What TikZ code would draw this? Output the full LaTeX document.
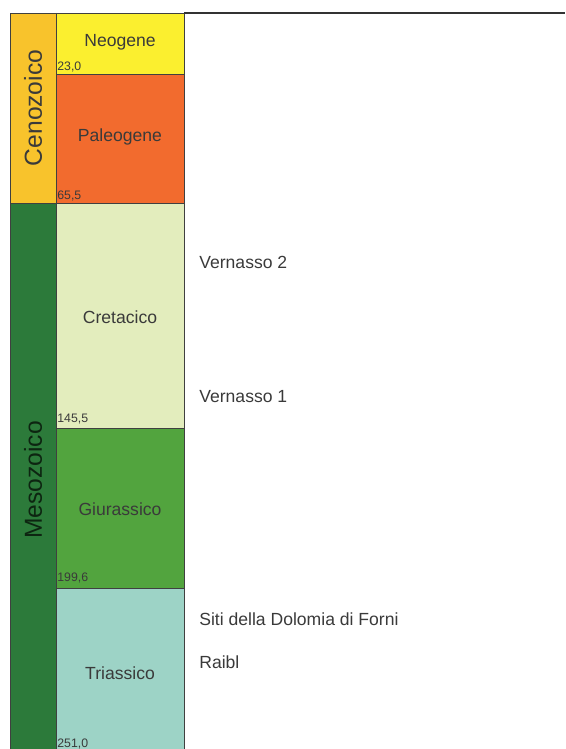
\documentclass[tikz,border=0pt]{standalone}
\usepackage{fontspec}
\setmainfont{Liberation Sans}
\definecolor{cenozoico}{HTML}{F8C32C}
\definecolor{mesozoico}{HTML}{2C7A3A}
\definecolor{neogene}{HTML}{FBEF2F}
\definecolor{paleogene}{HTML}{F26B2E}
\definecolor{cretacico}{HTML}{E3EDBD}
\definecolor{giurassico}{HTML}{52A43E}
\definecolor{triassico}{HTML}{9DD3C6}
\definecolor{testo}{HTML}{3A3A3A}
\tikzset{
  era/.style={font=\fontsize{14}{14}\selectfont,text=testo,rotate=90},
  periodo/.style={font=\fontsize{10}{10}\selectfont,text=testo},
  eta/.style={font=\fontsize{7}{7}\selectfont,text=testo,anchor=west,inner sep=0pt},
  sito/.style={font=\fontsize{10}{10}\selectfont,text=testo,anchor=west,inner sep=0pt},
  bordo/.style={draw=black!75,line width=0.4pt}
}
\begin{document}
\begin{tikzpicture}[x=0.02cm,y=-0.02cm]
\useasboundingbox (0,0) rectangle (565,749);
% ere
\fill[cenozoico] (10,13) rectangle (56,203);
\fill[mesozoico] (10,203) rectangle (56,749);
% periodi
\fill[neogene] (56,13) rectangle (184,74);
\fill[paleogene] (56,74) rectangle (184,203);
\fill[cretacico] (56,203) rectangle (184,428);
\fill[giurassico] (56,428) rectangle (184,588);
\fill[triassico] (56,588) rectangle (184,749);
\draw[bordo] (10,749) -- (10,13) -- (184,13) -- (184,749);
\draw[bordo] (56,13) -- (56,749);
\draw[bordo] (10,203) -- (184,203);
\foreach \y in {74,428,588} \draw[bordo] (56,\y) -- (184,\y);
\draw[black!80,line width=1.2pt] (184,13) -- (565,13);
% testi
\node[era] (ceno) at (33,108) {Cenozoico};
\node[era,text=black!70!mesozoico] (meso) at (33,480) {Mesozoico};
\node[periodo] (neo) at (120,42) {Neogene};
\node[periodo] (paleo) at (120,137) {Paleogene};
\node[periodo] (creta) at (120,317) {Cretacico};
\node[periodo] (giura) at (120,509) {Giurassico};
\node[periodo] (trias) at (120,673) {Triassico};
\node[eta] (e23) at (57,67) {23,0};
\node[eta] (e65) at (57,196) {65,5};
\node[eta] (e145) at (57,419) {145,5};
\node[eta] (e199) at (57,578) {199,6};
\node[eta] (e251) at (57,744) {251,0};
\node[sito] (vern2) at (199,262) {Vernasso 2};
\node[sito] (vern1) at (199,397) {Vernasso 1};
\node[sito] (forni) at (199,619) {Siti della Dolomia di Forni};
\node[sito] (raibl) at (199,662) {Raibl};
\end{tikzpicture}
\end{document}
